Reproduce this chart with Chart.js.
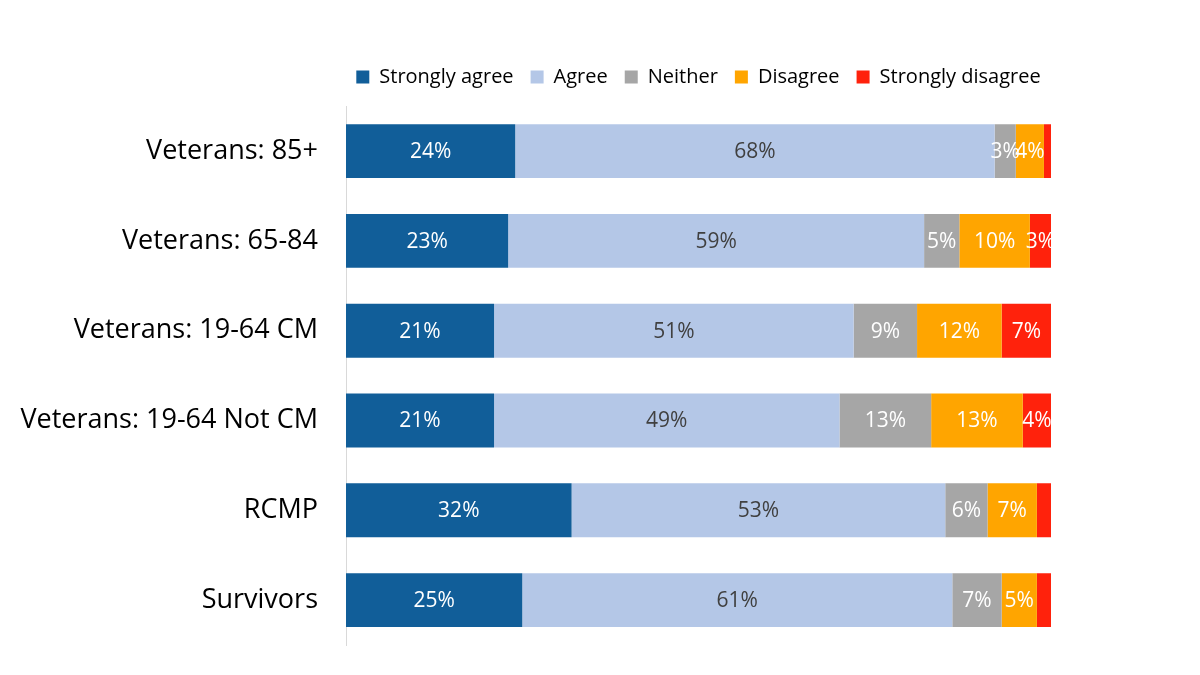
<!DOCTYPE html>
<html>
<head>
<meta charset="utf-8">
<script src="https://cdn.jsdelivr.net/npm/chart.js@4/dist/chart.umd.min.js"></script>
<style>
  html, body { margin: 0; padding: 0; background: #fff; }
  #wrap { width: 1200px; height: 675px; }
</style>
</head>
<body>
<div id="wrap"><canvas id="c" width="1200" height="675"></canvas></div>
<script>
const groups = ["Veterans: 85+", "Veterans: 65-84", "Veterans: 19-64 CM", "Veterans: 19-64 Not CM", "RCMP", "Survivors"];
const stronglyAgree = [24, 23, 21, 21, 32, 25];
const agree = [68, 59, 51, 49, 53, 61];
const neither = [3, 5, 9, 13, 6, 7];
const disagree = [4, 10, 12, 13, 7, 5];
const stronglyDisagree = [1, 3, 7, 4, 2, 2];

const FONT = "'Open Sans', Lato, sans-serif";

// legend centred over the plot area, not the whole canvas
const legendOverPlot = {
    id: "legendOverPlot",
    afterLayout(chart) {
        const lg = chart.legend;
        const cx = (chart.chartArea.left + chart.chartArea.right) / 2;
        lg.left = cx - 450;
        lg.right = cx + 450;
        lg.width = 900;
    }
};

// percentage labels inside the bars
const barLabels = {
    id: "barLabels",
    afterDatasetsDraw(chart) {
        const ctx = chart.ctx;
        ctx.save();
        ctx.font = "21px " + FONT;
        ctx.textAlign = "center";
        ctx.textBaseline = "middle";
        chart.data.datasets.forEach((ds, i) => {
            const meta = chart.getDatasetMeta(i);
            meta.data.forEach((bar, j) => {
                const v = ds.data[j];
                if (v < 3) return;
                ctx.fillStyle = ds.labelColor;
                ctx.fillText(v + "%", (bar.x + bar.base) / 2, bar.y + 1);
            });
        });
        ctx.restore();
    }
};

new Chart(document.getElementById("c"), {
    type: "bar",
    data: {
        labels: groups,
        datasets: [
            { label: "Strongly agree", data: stronglyAgree, backgroundColor: "#115E99", labelColor: "#ffffff" },
            { label: "Agree", data: agree, backgroundColor: "#B4C7E7", labelColor: "#404040" },
            { label: "Neither", data: neither, backgroundColor: "#A6A6A6", labelColor: "#ffffff" },
            { label: "Disagree", data: disagree, backgroundColor: "#FFA500", labelColor: "#ffffff" },
            { label: "Strongly disagree", data: stronglyDisagree, backgroundColor: "#FF220C", labelColor: "#ffffff" }
        ]
    },
    options: {
        indexAxis: "y",
        responsive: false,
        animation: false,
        datasets: { bar: { categoryPercentage: 0.6, barPercentage: 1.0, borderWidth: 0 } },
        layout: { padding: { left: 0, right: 149, top: 50, bottom: 30 } },
        plugins: {
            legend: {
                position: "top",
                weight: 1000,
                labels: {
                    boxWidth: 13,
                    boxHeight: 13,
                    padding: 17,
                    color: "#000",
                    font: { size: 20, family: FONT }
                }
            },
            // empty title used only as a gap between legend and bars
            title: {
                display: true,
                text: "",
                position: "top",
                weight: 500,
                padding: { top: 8, bottom: 0 },
                font: { size: 1 }
            },
            tooltip: { enabled: false }
        },
        scales: {
            x: {
                stacked: true,
                min: 0,
                max: 100,
                display: false
            },
            y: {
                stacked: true,
                grid: { display: false, drawTicks: false },
                border: { display: true, color: "#D9D9D9", width: 1 },
                ticks: {
                    color: "#000",
                    padding: 28,
                    font: { size: 27, family: FONT }
                },
                afterFit(scale) {
                    scale.width = 346;
                    scale.paddingTop = 0;
                    scale.paddingBottom = 0;
                }
            }
        }
    },
    plugins: [legendOverPlot, barLabels]
});
</script>
</body>
</html>
